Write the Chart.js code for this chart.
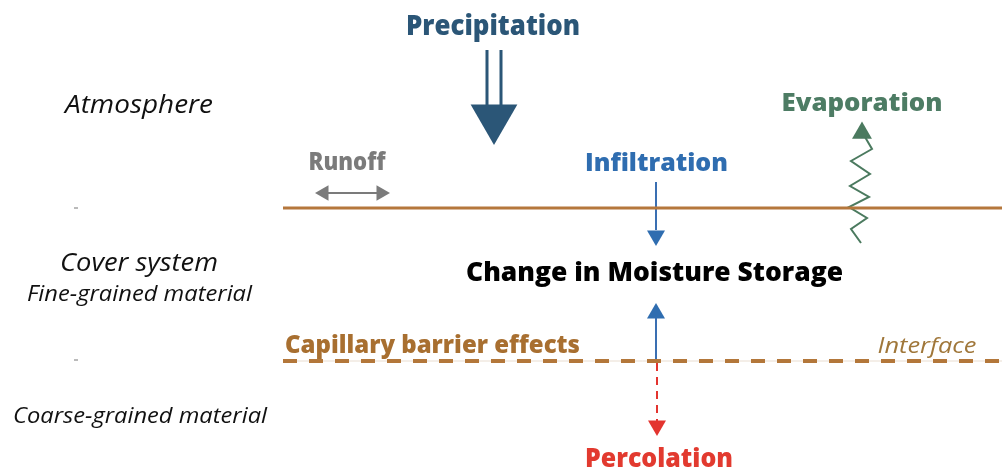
<!DOCTYPE html>
<html lang="en">
<head>
  <meta charset="UTF-8">
  <title>Cover system water balance</title>
  <script src="https://cdn.jsdelivr.net/npm/chart.js"></script>
  <style>
    body { margin: 0; background: #ffffff; }
    .diagram { width: 1002px; height: 473px; position: relative; }
  </style>
</head>
<body>
  <div class="diagram"><canvas id="diagram"></canvas></div>

  <script>
    // Diagram geometry, in diagram units (x 0..1002 left to right, y 0..473 top to bottom)
    const surfaceLine = [[283, 208], [1002, 208]];
    const interfaceLine = [[283, 361], [1002, 361]];
    const precipShaftLeft = [[487, 50], [487, 106]];
    const precipShaftRight = [[501, 50], [501, 106]];
    const runoffShaft = [[320, 193], [386, 193]];
    const infiltrationShaft = [[656, 182], [656, 230]];
    const storageShaft = [[656, 361], [656, 318]];
    const percolationShaft = [[657, 363], [657, 421]];
    const evaporationPath = [[861, 243], [851, 229], [867, 218], [849, 207], [869, 197], [850, 186],
                             [870, 174], [851, 161], [872, 149], [865, 137]];
    const tickMarks = [[[74, 208], [78, 208]], [[74, 360], [78, 360]]];

    // Arrowheads: [x, y, direction in degrees (0 = up)]
    const precipHead = [[494, 118, 180]];
    const runoffHeads = [[324, 193, 270], [381, 193, 90]];
    const infiltrationHead = [[656, 235.6, 180]];
    const storageHead = [[656, 313.4, 0]];
    const percolationHead = [[657, 425.6, 180]];
    const evaporationHead = [[862, 133, 0]];

    // Labels
    const labelText = ['Precipitation', 'Atmosphere', 'Runoff', 'Infiltration', 'Evaporation',
                       'Change in Moisture Storage', 'Cover system', 'Fine-grained material',
                       'Capillary barrier effects', 'Interface', 'Coarse-grained material', 'Percolation'];
    const labelX = [493, 139, 347, 656.5, 862, 654.5, 139, 139.5, 432.5, 927, 140, 659];
    const labelY = [35, 113, 170, 171, 111, 281, 271, 301, 353, 353, 423, 467];

    const pts = arr => arr.map(([x, y]) => ({ x, y }));

    function lineSet(data, color, width, dash) {
      return {
        type: 'line',
        data: pts(data),
        borderColor: color,
        borderWidth: width,
        borderDash: dash || [],
        pointRadius: 0,
        showLine: true,
        fill: false,
        tension: 0
      };
    }

    function headSet(data, color, radius) {
      return {
        type: 'scatter',
        data: pts(data),
        pointStyle: 'triangle',
        rotation: data.map(d => d[2]),
        pointRadius: radius,
        pointBackgroundColor: color,
        pointBorderColor: color,
        pointBorderWidth: 0,
        showLine: false
      };
    }

    // Label styles: [colour, italic, bold, cap height px, target width px]
    const labelStyle = [
      ['#2b5677', false, true, 20, 174],
      ['#111111', true, false, 18, 148],
      ['#7b7b7b', false, true, 17, 77],
      ['#2f6db0', false, true, 18, 143],
      ['#4d7c64', false, true, 18, 161],
      ['#000000', false, true, 19, 377],
      ['#111111', true, false, 18, 158],
      ['#111111', true, false, 15, 225],
      ['#a86f30', false, true, 18, 295],
      ['#a0773a', true, false, 16, 99],
      ['#111111', true, false, 16, 254],
      ['#e23a2f', false, true, 19, 148]
    ];

    const labelPlugin = {
      id: 'diagramLabels',
      afterDatasetsDraw(chart) {
        const ctx = chart.ctx;
        const xs = chart.scales.x, ys = chart.scales.y;
        labelText.forEach((text, i) => {
          const [color, italic, bold, cap, width] = labelStyle[i];
          const size = cap / 0.714;
          ctx.save();
          ctx.font = (italic ? 'italic ' : '') + (bold ? '800 ' : '') + size + 'px "Open Sans"';
          const sx = width / ctx.measureText(text).width;
          ctx.translate(xs.getPixelForValue(labelX[i]), ys.getPixelForValue(labelY[i]));
          ctx.scale(sx, 1);
          ctx.fillStyle = color;
          ctx.textAlign = 'center';
          ctx.textBaseline = 'alphabetic';
          ctx.fillText(text, 0, 0);
          ctx.restore();
        });
      }
    };

    // Chart.js paints higher indexes first, so the faint guide under the dashes comes after them
    const datasets = [
      lineSet(surfaceLine, '#b5773c', 3),
      lineSet(interfaceLine, '#b3773a', 4, [14, 12]),
      lineSet(interfaceLine, '#e9ddd0', 1),
      lineSet(precipShaftLeft, '#2b5677', 3),
      lineSet(precipShaftRight, '#2b5677', 3),
      lineSet(runoffShaft, '#7b7b7b', 2),
      lineSet(infiltrationShaft, '#3a6fb2', 2),
      lineSet(storageShaft, '#3a6fb2', 2),
      lineSet(percolationShaft, '#e3342f', 2, [8, 6]),
      lineSet(evaporationPath, '#4b7a5f', 2),
      lineSet(tickMarks[0], '#777777', 1),
      lineSet(tickMarks[1], '#777777', 1),
      headSet(precipHead, '#2b5677', 27),
      headSet(runoffHeads, '#7b7b7b', 9),
      headSet(infiltrationHead, '#2f6db0', 10.4),
      headSet(storageHead, '#2f6db0', 10.4),
      headSet(percolationHead, '#e3342f', 10.4),
      headSet(evaporationHead, '#4b7a5f', 11.5)
    ];

    document.fonts.load('800 20px "Open Sans"').then(() => document.fonts.load('italic 20px "Open Sans"')).finally(() => {
      new Chart(document.getElementById('diagram'), {
        type: 'scatter',
        data: { datasets },
        options: {
          responsive: true,
          maintainAspectRatio: false,
          animation: false,
          layout: { padding: 0, autoPadding: false },
          plugins: { legend: { display: false }, tooltip: { enabled: false } },
          scales: {
            x: { type: 'linear', min: 0, max: 1002, display: false },
            y: { type: 'linear', min: 0, max: 473, reverse: true, display: false }
          }
        },
        plugins: [labelPlugin]
      });
    });
  </script>
</body>
</html>
